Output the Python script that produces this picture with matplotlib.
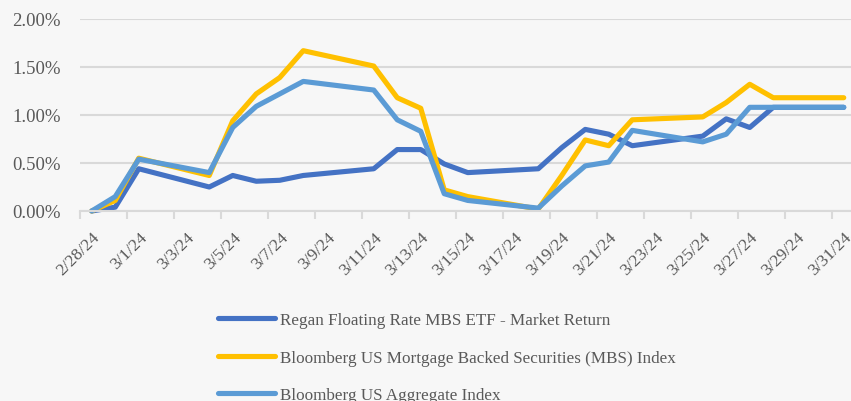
import matplotlib.pyplot as plt
import numpy as np
from matplotlib.ticker import FuncFormatter, FixedLocator

# day index from 2/28/24 (2/28 = 0, 2/29 = 1, 3/1 = 2, ...)
dates = ['2/28', '2/29', '3/1', '3/4', '3/5', '3/6', '3/7', '3/8', '3/11', '3/12',
         '3/13', '3/14', '3/15', '3/18', '3/19', '3/20', '3/21', '3/22', '3/25',
         '3/26', '3/27', '3/28', '3/31']

regan = [0.00, 0.04, 0.44, 0.25, 0.37, 0.31, 0.32, 0.37, 0.44, 0.64,
         0.64, 0.49, 0.40, 0.44, 0.66, 0.85, 0.80, 0.68, 0.78,
         0.96, 0.87, 1.08, 1.08]
mbs = [0.00, 0.11, 0.55, 0.37, 0.94, 1.22, 1.39, 1.67, 1.51, 1.18,
       1.07, 0.22, 0.15, 0.02, 0.37, 0.74, 0.68, 0.95, 0.98,
       1.13, 1.32, 1.18, 1.18]
agg = [0.00, 0.15, 0.54, 0.40, 0.87, 1.09, 1.22, 1.35, 1.26, 0.95,
       0.83, 0.18, 0.11, 0.03, 0.26, 0.47, 0.51, 0.84, 0.72,
       0.80, 1.08, 1.08, 1.08]

labels = ['Regan Floating Rate MBS ETF - Market Return',
          'Bloomberg US Mortgage Backed Securities (MBS) Index',
          'Bloomberg US Aggregate Index']
colors = ['#4472C4', '#FFC000', '#5B9BD5']

tick_labels = ['2/28/24', '3/1/24', '3/3/24', '3/5/24', '3/7/24', '3/9/24', '3/11/24',
               '3/13/24', '3/15/24', '3/17/24', '3/19/24', '3/21/24', '3/23/24',
               '3/25/24', '3/27/24', '3/29/24', '3/31/24']


def day_index(d):
    m, dd = d.split('/')
    return int(dd) - 28 if m == '2' else int(dd) + 1


x = np.array([day_index(d) for d in dates])
tick_x = [day_index(t.rsplit('/', 1)[0]) for t in tick_labels]

plt.rcParams['font.family'] = ['Liberation Serif', 'DejaVu Serif']
bg = '#F7F7F7'
txt = '#595959'
grid = '#D9D9D9'

fig = plt.figure(figsize=(8.51, 4.02), dpi=100, facecolor=bg)
W, H = 851, 402
ax = fig.add_axes([80 / W, (H - 212) / H, 775.5 / W, 192 / H], facecolor=bg)

for ys, c, lab in zip([regan, mbs, agg], colors, labels):
    ax.plot(x, ys, color=c, lw=3.7, solid_joinstyle='round', solid_capstyle='round',
            label=lab, clip_on=False)

ax.set_xlim(-0.5, 32.5)
ax.set_ylim(0, 2.0)
ax.set_yticks([0, 0.5, 1.0, 1.5, 2.0])
ax.yaxis.set_major_formatter(FuncFormatter(lambda v, p: f'{v:.2f}%'))
ax.grid(axis='y', color=grid, lw=1.5)
ax.set_axisbelow(True)

ax.set_xticks(tick_x)
ax.set_xticklabels(tick_labels, rotation=45, ha='right', rotation_mode='anchor')
ax.xaxis.set_minor_locator(FixedLocator(np.arange(-0.5, 33, 2)))
ax.tick_params(axis='x', which='major', length=0, pad=13, labelsize=12.6, labelcolor=txt)
ax.tick_params(axis='x', which='minor', length=6, width=1.5, color=grid)
ax.tick_params(axis='y', length=0, pad=14, labelsize=13.5, labelcolor=txt)

for s in ['top', 'right', 'left']:
    ax.spines[s].set_visible(False)
ax.spines['bottom'].set_color(grid)
ax.spines['bottom'].set_linewidth(1.5)

fig.legend(loc='upper left', bbox_to_anchor=(218 / W, (H - 313) / H), frameon=False,
           fontsize=12.3, handlelength=3.35, handletextpad=0.25, labelspacing=1.27,
           borderpad=0, borderaxespad=0, labelcolor=txt)

fig.savefig('out.png', dpi=100, facecolor=bg)
